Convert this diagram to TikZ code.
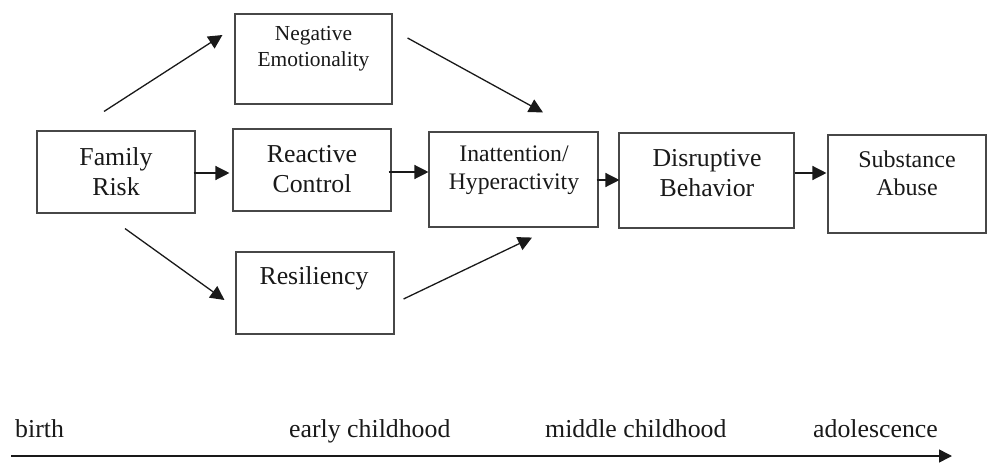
\documentclass[tikz,border=0pt]{standalone}
\usepackage{fontspec}
\setmainfont{Liberation Serif}
\usetikzlibrary{arrows.meta,calc}
\begin{document}
\begin{tikzpicture}[x=1pt,y=-1pt,
  box/.style={draw=black!72,line width=1.1pt,inner sep=0pt,fill=white},
  lbl/.style={align=center,inner sep=0pt,text=black!90,font=\fontsize{25.8}{30}\selectfont},
  tlbl/.style={anchor=base west,inner sep=0pt,text=black!90,font=\fontsize{25.8}{30}\selectfont},
  arr/.style={line width=1.3pt,draw=black!90,-{Triangle[length=14pt,width=14pt]}}]
\useasboundingbox (0,0) rectangle (987,465);
% boxes
\node[box,minimum width=158,minimum height=82] (fr) at (116,172) {};
\node[box,minimum width=157,minimum height=90] (ne) at (313.5,59) {};
\node[box,minimum width=158,minimum height=82] (rc) at (312,170) {};
\node[box,minimum width=169,minimum height=95] (in) at (513.5,179.5) {};
\node[box,minimum width=175,minimum height=95] (dis) at (706.5,180.5) {};
\node[box,minimum width=158,minimum height=98] (sub) at (907,184) {};
\node[box,minimum width=158,minimum height=82] (res) at (315,293) {};
% texts
\node[lbl] (frt) at (116,172) {Family\\Risk};
\node[lbl,font=\fontsize{21.4}{26}\selectfont] (net) at (313.5,49) {Negative\\Emotionality};
\node[lbl] (rct) at (312,169.5) {Reactive\\Control};
\node[lbl,font=\fontsize{23.7}{28}\selectfont] (int) at (514,170) {Inattention/\\Hyperactivity};
\node[lbl] (dist) at (707,173) {Disruptive\\Behavior};
\node[lbl,font=\fontsize{24}{28}\selectfont] (subt) at (907,173) {Substance\\Abuse};
\node[lbl] (rest) at (314,278) {Resiliency};
% arrows
\draw[arr] ($(fr.north)+(-12,-19)$) -- ($(ne.west)+(-12,-24)$);
\draw[arr] ($(ne.east)+(15,-21)$) -- ($(in.north)+(29.5,-19)$);
\draw[arr] ($(fr.south)+(9,15)$) -- ($(res.west)+(-11,7)$);
\draw[arr] ($(res.east)+(9,6)$) -- ($(in.south)+(18.5,10)$);
\draw[arr] ($(fr.east)+(-2,1)$) -- ($(rc.west)+(-3,3)$);
\draw[arr] ($(rc.east)+(-3,2)$) -- ($(in.west)+(0,-7.5)$);
\draw[arr] ($(in.east)+(-2,0.5)$) -- ($(dis.west)+(1,-0.5)$);
\draw[arr] ($(dis.east)+(0,-7.5)$) -- ($(sub.west)+(-1,-11)$);
% timeline
\node[tlbl] (t1) at (15,437) {birth};
\node[tlbl] (t2) at (289,437) {early childhood};
\node[tlbl] (t3) at (545,437) {middle childhood};
\node[tlbl] (t4) at (813,437) {adolescence};
\coordinate (tl0) at (11,456);
\coordinate (tl1) at (952,456);
\draw[line width=1.5pt,draw=black!90,-{Triangle[length=13pt,width=13pt]}] (tl0) -- (tl1);
\end{tikzpicture}
\end{document}
